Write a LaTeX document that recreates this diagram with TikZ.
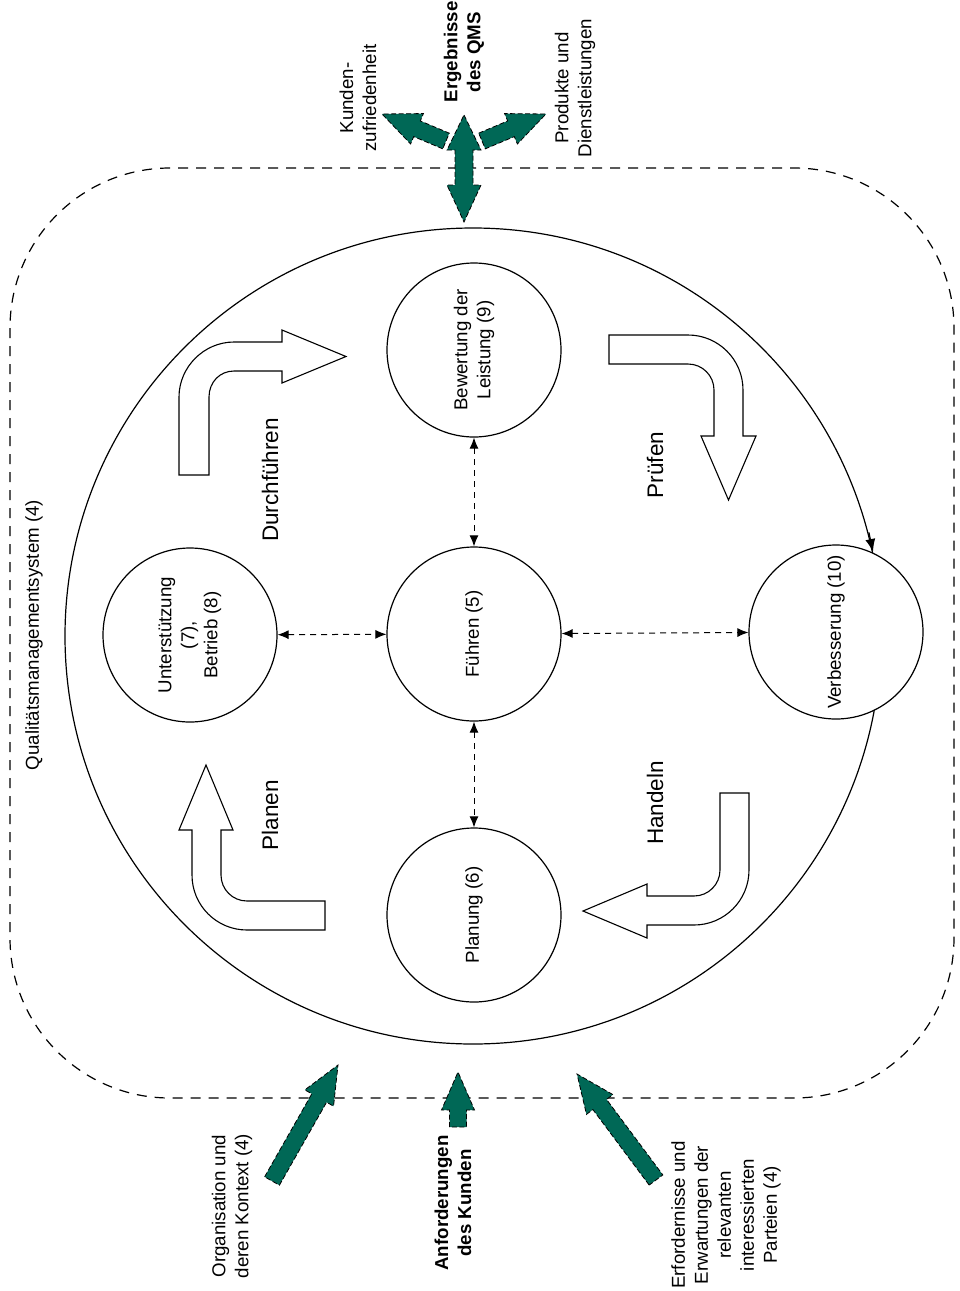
\documentclass[tikz,border=0pt]{standalone}
\usepackage{fontspec}
\setmainfont{Liberation Sans}
\usetikzlibrary{calc,arrows.meta}
\definecolor{qmgreen}{RGB}{0,104,86}
\newcommand\greenarrow[3]{%
  \coordinate (#3b) at ($(#2)!38pt!(#1)$);
  \draw[garrow] ($(#1)!8.5pt!90:(#2)$) -- ($(#3b)!8.5pt!90:(#2)$) -- ($(#3b)!16.5pt!90:(#2)$) -- (#2)
     -- ($(#3b)!16.5pt!-90:(#2)$) -- ($(#3b)!8.5pt!-90:(#2)$) -- ($(#1)!8.5pt!-90:(#2)$) -- cycle;
}
\begin{document}
\begin{tikzpicture}[x=1pt,y=-1pt,
  every node/.style={font=\fontsize{18.7}{23}\selectfont},
  proc/.style={circle,draw,line width=1.2pt,fill=white,minimum size=174pt,inner sep=0pt,align=center,rotate=90},
  lbl/.style={rotate=90,align=center},
  biglbl/.style={rotate=90,font=\fontsize{22.5}{26}\selectfont},
  hollow/.style={draw,line width=1.1pt,fill=white,line join=miter},
  link/.style={dash pattern=on 6pt off 5pt,line width=1pt,{Latex[length=11pt,width=9pt]}-{Latex[length=11pt,width=9pt]}},
  garrow/.style={fill=qmgreen,draw=black,line width=0.8pt,dash pattern=on 5pt off 2.5pt,line join=miter},
  qmsframe/.style={dash pattern=on 10pt off 8pt,line width=1.2pt,rounded corners=160pt}
]
\useasboundingbox (0,0) rectangle (959,1291);

% frame of the QMS
\draw[qmsframe] (10,168) rectangle (954,1098);

% big cycle circle
\coordinate (bigc) at (473,636);
\draw[line width=1.2pt] (bigc) circle[radius=408pt];

% green arrows (top)
\draw[garrow] (464,115) -- (481,150) -- (473,150) -- (473,185) -- (481,185) -- (464,222)
   -- (447,185) -- (455,185) -- (455,150) -- (447,150) -- cycle;
\coordinate (tlT) at (446,141); \coordinate (tlP) at (382,114);
\coordinate (trT) at (482,141); \coordinate (trP) at (546,114);
\greenarrow{tlT}{tlP}{tl}
\greenarrow{trT}{trP}{tr}

% green arrows (bottom)
\coordinate (blT) at (272,1181); \coordinate (blP) at (338,1065);
\coordinate (bmT) at (458,1127); \coordinate (bmP) at (458,1072);
\coordinate (brT) at (656,1180); \coordinate (brP) at (577,1074);
\greenarrow{blT}{blP}{bl}
\greenarrow{bmT}{bmP}{bm}
\greenarrow{brT}{brP}{br}

% hollow PDCA arrows
\draw[hollow] (179,475) -- (179,397) .. controls (179,367) and (204,342) .. (234,342) -- (282,342)
  -- (282,330) -- (346,356.5) -- (282,383) -- (282,371) -- (234,371)
  .. controls (220,371) and (209,382) .. (209,397) -- (209,475) -- cycle;
\draw[hollow] (192,830) -- (179,830) -- (206,765) -- (233,830) -- (221,830) -- (221,875)
  .. controls (221,889.4) and (232.6,901) .. (247,901) -- (325,901) -- (325,930) -- (247,930)
  .. controls (216.6,930) and (192,905.4) .. (192,875) -- cycle;
\draw[hollow] (609,335) -- (688,335) .. controls (718.4,335) and (743,359.6) .. (743,390) -- (743,436)
  -- (756,436) -- (728.5,500) -- (701,436) -- (714,436) -- (714,390)
  .. controls (714,375.6) and (702.4,364) .. (688,364) -- (609,364) -- cycle;
\draw[hollow] (720,793) -- (749,793) -- (749,870) .. controls (749,900.4) and (724.4,925) .. (694,925)
  -- (647,925) -- (647,938) -- (583,911) -- (647,884) -- (647,896) -- (694,896)
  .. controls (708.4,896) and (720,884.4) .. (720,870) -- cycle;

% process circles
\node[proc] (bew) at (474,350) {Bewertung der\\Leistung (9)};
\node[proc] (unt) at (190,635) {Unterstützung\\(7),\\Betrieb (8)};
\node[proc] (fuehr) at (474,634) {Führen (5)};
\node[proc] (verb) at (836,632) {Verbesserung (10)};
\node[proc] (plan) at (474,915) {Planung (6)};

% arrow tip of the cycle entering Verbesserung
\coordinate (cycA) at (868.9,532.4);
\coordinate (cycB) at (873,552);
\draw[line width=1.2pt,-{Latex[length=13pt,width=10pt]}] (cycA) -- (cycB);

% dashed links
\draw[link] (bew) -- (fuehr);
\draw[link] (fuehr) -- (plan);
\draw[link] (unt) -- (fuehr);
\draw[link] (fuehr) -- (verb);

% labels
\node[biglbl] (ldurch) at (270,480) {Durchführen};
\node[biglbl] (lplan) at (270,815) {Planen};
\node[biglbl] (lpruef) at (655,465) {Prüfen};
\node[biglbl] (lhand) at (655,803) {Handeln};
\node[lbl] (lqms) at (34,635) {Qualitätsmanagementsystem (4)};
\node[lbl] (lkund) at (358,98) {Kunden-\\zufriedenheit};
\node[lbl,font=\fontsize{18.7}{23}\selectfont\bfseries] (lerg) at (464,52) {Ergebnisse\\des QMS};
\node[lbl] (lprod) at (575,88) {Produkte und\\Dienstleistungen};
\node[lbl] (lorg) at (232,1206) {Organisation und\\deren Kontext (4)};
\node[lbl,font=\fontsize{18.7}{23}\selectfont\bfseries] (lanf) at (453,1203) {Anforderungen\\des Kunden};
\node[lbl] (lerf) at (726,1215) {Erfordernisse und\\Erwartungen der\\relevanten\\interessierten\\Parteien (4)};
\end{tikzpicture}
\end{document}
